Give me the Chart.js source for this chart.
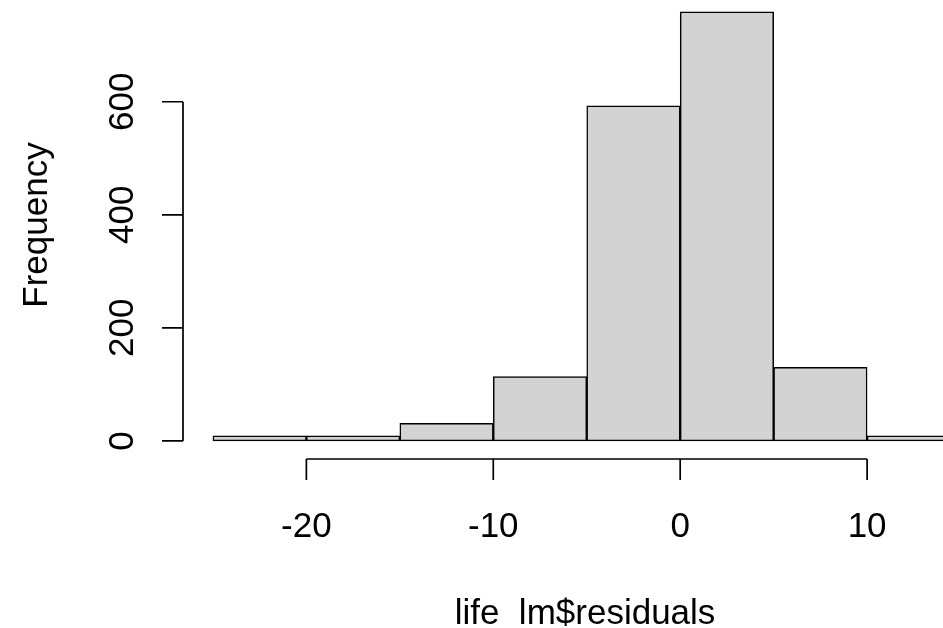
<!DOCTYPE html>
<html>
<head>
<meta charset="utf-8">
<title>Histogram of residuals</title>
<script src="https://cdn.jsdelivr.net/npm/chart.js@4/dist/chart.umd.min.js"></script>
<style>
    html, body { margin: 0; padding: 0; background: #fff; }
    #grafico { display: block; }
</style>
</head>
<body>
<canvas id="grafico" width="943" height="628"></canvas>
<script>
const binStarts = [-25, -20, -15, -10, -5, 0, 5, 10];
const binWidth = 5;
const counts = [9, 9, 31, 114, 593, 759, 130, 9];
const xTicks = [-20, -10, 0, 10];
const yTicks = [0, 200, 400, 600];
const xTitle = 'life_lm$residuals';
const yTitle = 'Frequency';

const FONT = '35px "Liberation Sans", Arial, sans-serif';

// R style axes: detached lines spanning only the tick range
const rAxes = {
    id: 'rAxes',
    afterDraw(chart) {
        const ctx = chart.ctx;
        const xs = chart.scales.x;
        const ys = chart.scales.y;
        const area = chart.chartArea;

        ctx.save();
        ctx.strokeStyle = '#000';
        ctx.fillStyle = '#000';
        ctx.lineWidth = 1.7;
        ctx.font = FONT;

        // x axis
        const axisY = area.bottom;
        ctx.beginPath();
        ctx.moveTo(xs.getPixelForValue(xTicks[0]), axisY);
        ctx.lineTo(xs.getPixelForValue(xTicks[xTicks.length - 1]), axisY);
        xTicks.forEach(t => {
            const px = xs.getPixelForValue(t);
            ctx.moveTo(px, axisY);
            ctx.lineTo(px, axisY + 21);
        });
        ctx.stroke();

        ctx.textAlign = 'center';
        ctx.textBaseline = 'alphabetic';
        xTicks.forEach(t => {
            ctx.fillText(String(t), xs.getPixelForValue(t), 537);
        });

        // y axis
        const axisX = area.left;
        ctx.beginPath();
        ctx.moveTo(axisX, ys.getPixelForValue(yTicks[0]));
        ctx.lineTo(axisX, ys.getPixelForValue(yTicks[yTicks.length - 1]));
        yTicks.forEach(t => {
            const py = ys.getPixelForValue(t);
            ctx.moveTo(axisX, py);
            ctx.lineTo(axisX - 21, py);
        });
        ctx.stroke();

        yTicks.forEach(t => {
            ctx.save();
            ctx.translate(132.5, ys.getPixelForValue(t));
            ctx.rotate(-Math.PI / 2);
            ctx.fillText(String(t), 0, 0);
            ctx.restore();
        });

        // axis titles
        ctx.save();
        ctx.translate(47, 225);
        ctx.rotate(-Math.PI / 2);
        ctx.fillText(yTitle, 0, 0);
        ctx.restore();

        ctx.fillText(xTitle, 585, 624);

        ctx.restore();
    }
};

function renderGrafico() {
    const ctx = document.getElementById('grafico');

    new Chart(ctx, {
        type: 'bar',
        data: {
            datasets: [{
                data: binStarts.map((s, i) => ({ x: s + binWidth / 2, y: counts[i] })),
                backgroundColor: '#d3d3d3',
                borderColor: '#000',
                borderWidth: 1.5,
                borderSkipped: false,
                barPercentage: 1,
                categoryPercentage: 1
            }]
        },
        options: {
            responsive: false,
            animation: false,
            devicePixelRatio: 1,
            layout: {
                padding: { left: 183, right: 0, top: 0, bottom: 169 }
            },
            plugins: {
                legend: { display: false },
                tooltip: { enabled: false }
            },
            scales: {
                x: {
                    type: 'linear',
                    display: false,
                    offset: false,
                    min: -26.6,
                    max: 14.06,
                    ticks: { stepSize: 5, includeBounds: false }
                },
                y: {
                    display: false,
                    min: -32,
                    max: 780
                }
            }
        },
        plugins: [rAxes]
    });
}

document.addEventListener('DOMContentLoaded', () => {
    renderGrafico();
});
</script>
</body>
</html>
